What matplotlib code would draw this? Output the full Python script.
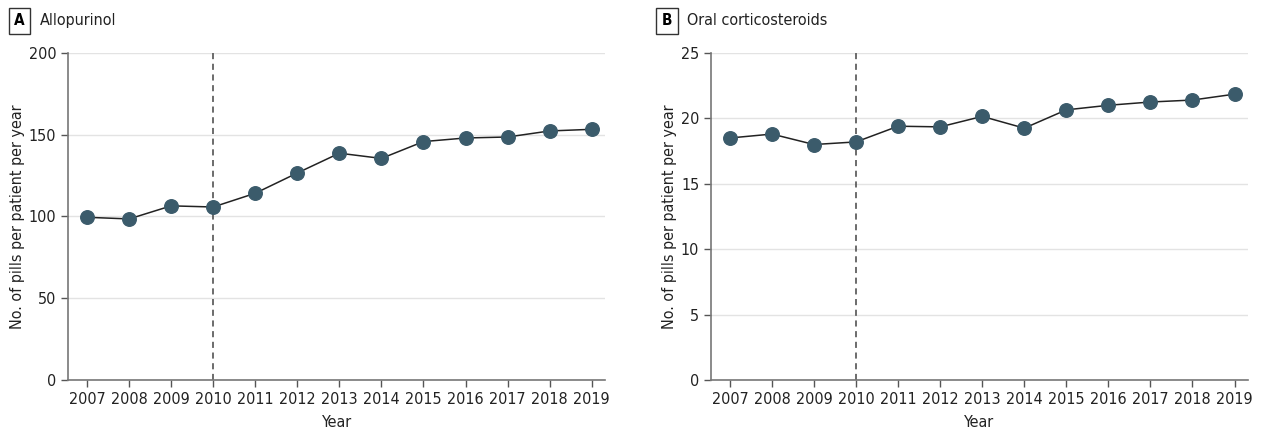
import matplotlib.pyplot as plt

plt.rcParams['font.family'] = ['DejaVu Sans']
plt.rcParams['font.stretch'] = 'condensed'

years = [2007, 2008, 2009, 2010, 2011, 2012, 2013, 2014, 2015, 2016, 2017, 2018, 2019]
allopurinol = [99.5, 98.5, 106.5, 105.8, 114.2, 126.6, 138.7, 135.5, 145.8, 148.0, 148.6, 152.3, 153.3]
corticosteroids = [18.5, 18.8, 18.0, 18.2, 19.4, 19.35, 20.15, 19.25, 20.65, 21.0, 21.25, 21.4, 21.85]
panels = [("A", "Allopurinol", allopurinol, [0, 50, 100, 150, 200]),
          ("B", "Oral corticosteroids", corticosteroids, [0, 5, 10, 15, 20, 25])]

fig = plt.figure(figsize=(12.62, 4.34), dpi=100)
lefts = [0.054, 0.5634]
letter_x = [0.0155, 0.5285]

for i, (letter, name, vals, yt) in enumerate(panels):
    ax = fig.add_axes([lefts[i], 0.1244, 0.4255, 0.7536])
    ax.plot(years, vals, color='#222222', lw=1.1, zorder=3)
    ax.scatter(years, vals, s=95, color='#3b5b6b', zorder=4)
    ax.axvline(2010, color='#444444', lw=1.1, ls=(0, (4, 3)), zorder=2)
    ax.set_xlim(2006.55, 2019.32)
    ax.set_ylim(0, yt[-1])
    ax.set_yticks(yt)
    ax.set_xticks(years)
    ax.grid(axis='y', color='#e3e3e3', lw=1)
    ax.set_axisbelow(True)
    for s in ['top', 'right']:
        ax.spines[s].set_visible(False)
    for s in ['left', 'bottom']:
        ax.spines[s].set_color('#777777')
        ax.spines[s].set_linewidth(1.2)
    ax.tick_params(colors='#555555', labelcolor='#222222', labelsize=11.5, length=5, width=1)
    ax.set_xlabel("Year", fontsize=11.5, color='#222222', labelpad=6)
    ax.set_ylabel("No. of pills per patient per year", fontsize=11.5, color='#222222', labelpad=3)
    fig.text(letter_x[i], 0.952, letter, fontsize=11, fontweight='bold', ha='center', va='center',
             bbox=dict(boxstyle='square,pad=0.35', fc='white', ec='#333333', lw=1))
    fig.text(letter_x[i] + 0.016, 0.952, name, fontsize=11.5, ha='left', va='center', color='#222222')

fig.savefig('out.png', dpi=100)
